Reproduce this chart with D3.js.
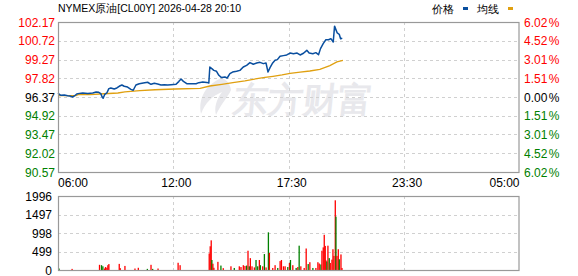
<!DOCTYPE html>
<html>
<head>
<meta charset="utf-8">
<script src="https://cdn.jsdelivr.net/npm/d3@7"></script>
<style>
  html, body { margin: 0; padding: 0; background: #fff; }
  svg { display: block; }
  text { font-family: "Liberation Sans", Arial, sans-serif; }
</style>
</head>
<body>
<div id="chart"></div>
<script>

// quote info
const title = "NYMEX原油[CL00Y] 2026-04-28 20:10";
const preClose = 96.37;
const priceTicks = [102.17, 100.72, 99.27, 97.82, 96.37, 94.92, 93.47, 92.02, 90.57];
const pctTicks = ["6.02", "4.52", "3.01", "1.51", "0.00", "1.51", "3.01", "4.52", "6.02"];
const volTicks = [0, 499, 998, 1497, 1996];

// session runs 06:00 -> 05:00, minute index 0..1380
const timeIdx = [0, 345, 690, 1035, 1380];
const timeLabels = ["06:00", "12:00", "17:30", "23:30", "05:00"];

// price line (minute index, price)
const priceMin = [0, 4, 9, 19, 29, 39, 44, 49, 56, 64, 74, 89, 104, 114, 122, 128, 132, 135, 140, 146,
  152, 158, 168, 176, 183, 191, 198, 208, 218, 225, 233, 243, 255, 268, 278, 288, 298, 308, 318, 328,
  338, 353, 361, 368, 375, 385, 398, 413, 421, 433, 445, 451, 454, 460, 466, 474, 481, 489, 499, 506,
  514, 522, 534, 544, 554, 564, 574, 584, 594, 604, 614, 622, 628, 634, 642, 649, 656, 664, 674, 684,
  694, 704, 715, 724, 734, 744, 751, 762, 771, 779, 785, 793, 801, 809, 816, 823, 827, 831, 835, 841,
  845, 850];
const priceVal = [96.68, 96.58, 96.50, 96.53, 96.47, 96.42, 96.37, 96.45, 96.60, 96.65, 96.68, 96.65, 96.68, 96.76, 96.73, 96.63, 96.37, 96.27, 96.58, 96.68,
  97.02, 97.07, 96.99, 97.07, 97.20, 97.30, 97.20, 97.14, 96.96, 96.89, 97.30, 97.40, 97.45, 97.51, 97.35, 97.43, 97.38, 97.30, 97.32, 97.30,
  97.32, 97.35, 97.56, 97.76, 97.58, 97.40, 97.40, 97.40, 97.48, 97.53, 97.50, 97.45, 98.69, 98.56, 98.43, 98.36, 98.05, 97.87, 97.92, 97.84,
  98.18, 98.30, 98.36, 98.43, 98.69, 98.82, 99.03, 98.90, 99.00, 99.05, 98.95, 99.00, 98.30, 98.64, 99.00, 99.21, 99.26, 99.52, 99.57, 99.62,
  99.77, 99.72, 99.77, 99.62, 99.75, 99.98, 99.77, 99.72, 99.80, 99.64, 100.11, 100.50, 100.80, 100.80, 100.88, 100.62, 101.85, 101.58, 101.32, 101.22,
  100.88, 100.92];

// average price line
const avgMin = [0, 54, 60, 96, 138, 179, 200, 245, 290, 350, 425, 454, 490, 523, 559, 595, 619, 643, 670, 694, 724, 753, 783, 813, 834, 852];
const avgVal = [96.47, 96.47, 96.55, 96.56, 96.62, 96.68, 96.76, 96.86, 96.93, 96.99, 97.04, 97.22, 97.35, 97.48, 97.62, 97.79, 97.88, 97.97, 98.08, 98.20, 98.30, 98.38, 98.51, 98.80, 99.08, 99.21];

// volume bars (minute index, lots, up?)
const volMin = [3, 42, 124, 130, 134, 139, 142, 146, 149, 152, 183, 186, 200, 230, 240, 267, 278, 283, 299, 359,
  365, 452, 455, 458, 460, 463, 466, 478, 487, 494, 517, 527, 542, 547, 554, 559, 564, 568, 572, 575,
  580, 587, 592, 597, 602, 605, 612, 617, 622, 629, 632, 642, 649, 657, 664, 668, 674, 679, 687, 692,
  695, 702, 712, 717, 721, 726, 736, 742, 748, 753, 762, 771, 777, 781, 786, 789, 793, 796, 799, 801,
  804, 807, 811, 814, 819, 822, 825, 829, 831, 834, 838, 841, 846, 849];
const volVal = [40, 30, 140, 130, 100, 40, 80, 60, 130, 160, 165, 50, 110, 40, 60, 30, 140, 30, 40, 195,
  130, 445, 640, 800, 270, 170, 60, 220, 120, 50, 100, 55, 100, 80, 130, 110, 120, 520, 100, 320,
  100, 70, 270, 100, 270, 130, 100, 430, 70, 1016, 460, 55, 130, 55, 240, 270, 100, 100, 80, 190,
  270, 130, 55, 80, 656, 100, 55, 580, 160, 210, 55, 55, 210, 175, 150, 520, 610, 950, 650, 260,
  230, 656, 320, 190, 280, 560, 380, 1880, 1440, 380, 560, 290, 420, 55];
const volUp = [0, 1, 1, 0, 0, 1, 1, 1, 1, 1, 1, 1, 1, 1, 1, 0, 1, 0, 1, 1,
  1, 1, 1, 1, 0, 1, 1, 1, 0, 1, 1, 0, 1, 1, 1, 1, 0, 1, 0, 1,
  1, 1, 0, 0, 1, 0, 1, 0, 1, 0, 1, 1, 1, 0, 1, 1, 1, 1, 0, 1,
  0, 1, 0, 1, 0, 1, 1, 1, 0, 1, 0, 1, 1, 1, 0, 1, 1, 1, 1, 1,
  0, 1, 0, 1, 1, 1, 1, 1, 0, 1, 1, 0, 1, 1];

const W = 578, H = 276;
const left = 58, right = 519.5;
const main = {top: 22, bottom: 172};
const vol = {top: 196, bottom: 270};

const red = "#ff0000", green = "#008000";

const svg = d3.select("#chart").append("svg")
    .attr("width", W)
    .attr("height", H);

// scales
const x = d3.scaleLinear().domain([0, 1380]).range([left, right]);
const y = d3.scaleLinear().domain([90.57, 102.17]).range([main.bottom, main.top]);
const yv = d3.scaleLinear().domain([0, 1996]).range([vol.bottom, vol.top]);

// watermark (logo + name)
const wm = svg.append("g").attr("fill", "#e8e8ec");
wm.append("path")
    .attr("d", "M222,78 C206,84 198,98 201,114 C205,103 212,96 222,92 C216,100 214,108 216,115 C221,104 228,97 231,90 C230,84 227,80 222,78 Z");
wm.append("text")
    .attr("x", 233)
    .attr("y", 112)
    .attr("font-family", "Noto Sans CJK SC")
    .attr("font-weight", "bold")
    .attr("font-size", 35)
    .attr("transform", "skewX(-6) translate(11,0)")
    .text("东方财富");

// grids
const grid = svg.append("g")
    .attr("stroke", "#d0d0d0")
    .attr("stroke-dasharray", "3,3");

grid.selectAll(".hg")
    .data(priceTicks.slice(1, -1))
    .enter().append("line")
    .attr("x1", left).attr("x2", right)
    .attr("y1", d => Math.round(y(d)) + 0.5)
    .attr("y2", d => Math.round(y(d)) + 0.5);

grid.selectAll(".vg")
    .data(timeIdx.slice(1, -1))
    .enter().append("line")
    .attr("x1", d => Math.round(x(d)) + 0.5)
    .attr("x2", d => Math.round(x(d)) + 0.5)
    .attr("y1", main.top).attr("y2", main.bottom);

grid.selectAll(".vhg")
    .data(volTicks.slice(1, -1))
    .enter().append("line")
    .attr("x1", left).attr("x2", right)
    .attr("y1", d => Math.round(yv(d)) + 0.5)
    .attr("y2", d => Math.round(yv(d)) + 0.5);

grid.selectAll(".vvg")
    .data(timeIdx.slice(1, -1))
    .enter().append("line")
    .attr("x1", d => Math.round(x(d)) + 0.5)
    .attr("x2", d => Math.round(x(d)) + 0.5)
    .attr("y1", vol.top).attr("y2", vol.bottom);

// volume bars
const bars = volMin.map((m, i) => ({m: m, v: volVal[i], up: volUp[i]}));
svg.append("g").selectAll("rect")
    .data(bars)
    .enter().append("rect")
    .attr("x", d => x(d.m) - 0.6)
    .attr("width", 1.3)
    .attr("y", d => yv(d.v))
    .attr("height", d => vol.bottom - yv(d.v))
    .attr("fill", d => d.up ? red : green);

// price + average lines
const line = d3.line()
    .x(d => x(d[0]))
    .y(d => y(d[1]));

svg.append("path")
    .datum(avgMin.map((m, i) => [m, avgVal[i]]))
    .attr("d", line)
    .attr("fill", "none")
    .attr("stroke", "#e0a010")
    .attr("stroke-width", 1.3);

svg.append("path")
    .datum(priceMin.map((m, i) => [m, priceVal[i]]))
    .attr("d", line)
    .attr("fill", "none")
    .attr("stroke", "#0a4f9f")
    .attr("stroke-width", 1.5)
    .attr("stroke-linejoin", "round");

// frames
[main, vol].forEach(p => {
    svg.append("rect")
        .attr("x", left + 0.5)
        .attr("y", p.top + 0.5)
        .attr("width", right - left - 1)
        .attr("height", p.bottom - p.top)
        .attr("fill", "none")
        .attr("stroke", "#999")
        .attr("stroke-width", 1.2);
});

// price axis labels (left)
const lblColor = v => v > preClose ? red : (v < preClose ? green : "#000");
svg.append("g").selectAll("text")
    .data(priceTicks)
    .enter().append("text")
    .attr("x", 55)
    .attr("y", d => y(d) + 4.5)
    .attr("text-anchor", "end")
    .attr("font-size", 12)
    .attr("fill", d => lblColor(d))
    .text(d => d.toFixed(2));

// percent labels (right)
const pct = svg.append("g").selectAll("text")
    .data(priceTicks)
    .enter().append("text")
    .attr("x", 524)
    .attr("y", d => y(d) + 4.5)
    .attr("font-size", 12)
    .attr("fill", d => lblColor(d));
pct.append("tspan").text((d, i) => pctTicks[i]);
pct.append("tspan").attr("dx", 1.5).text("%");

// time labels
svg.append("g").selectAll("text")
    .data(timeIdx)
    .enter().append("text")
    .attr("x", (d, i) => i == 0 ? left : (i == timeIdx.length - 1 ? right : x(d) + 3))
    .attr("y", 187)
    .attr("text-anchor", (d, i) => i == 0 ? "start" : (i == timeIdx.length - 1 ? "end" : "middle"))
    .attr("font-size", 12)
    .attr("fill", "#000")
    .text((d, i) => timeLabels[i]);

// volume labels
svg.append("g").selectAll("text")
    .data(volTicks)
    .enter().append("text")
    .attr("x", 52)
    .attr("y", d => yv(d) + 4.5)
    .attr("text-anchor", "end")
    .attr("font-size", 12)
    .attr("fill", "#000")
    .text(d => d);

// title
svg.append("text")
    .attr("x", left)
    .attr("y", 12)
    .attr("font-family", "Liberation Mono, Noto Sans CJK SC, monospace")
    .attr("font-size", 10.5)
    .attr("fill", "#000")
    .text(title);

// legend
const legend = [["价格", "#0a4f9f", 432], ["均线", "#e0a010", 477]];
legend.forEach(l => {
    svg.append("text")
        .attr("x", l[2])
        .attr("y", 13)
        .attr("font-family", "Noto Sans CJK SC")
        .attr("font-size", 11)
        .attr("fill", "#000")
        .text(l[0]);
    svg.append("rect")
        .attr("x", l[2] + 31)
        .attr("y", 7)
        .attr("width", 5)
        .attr("height", 3)
        .attr("fill", l[1]);
});

</script>
</body>
</html>
